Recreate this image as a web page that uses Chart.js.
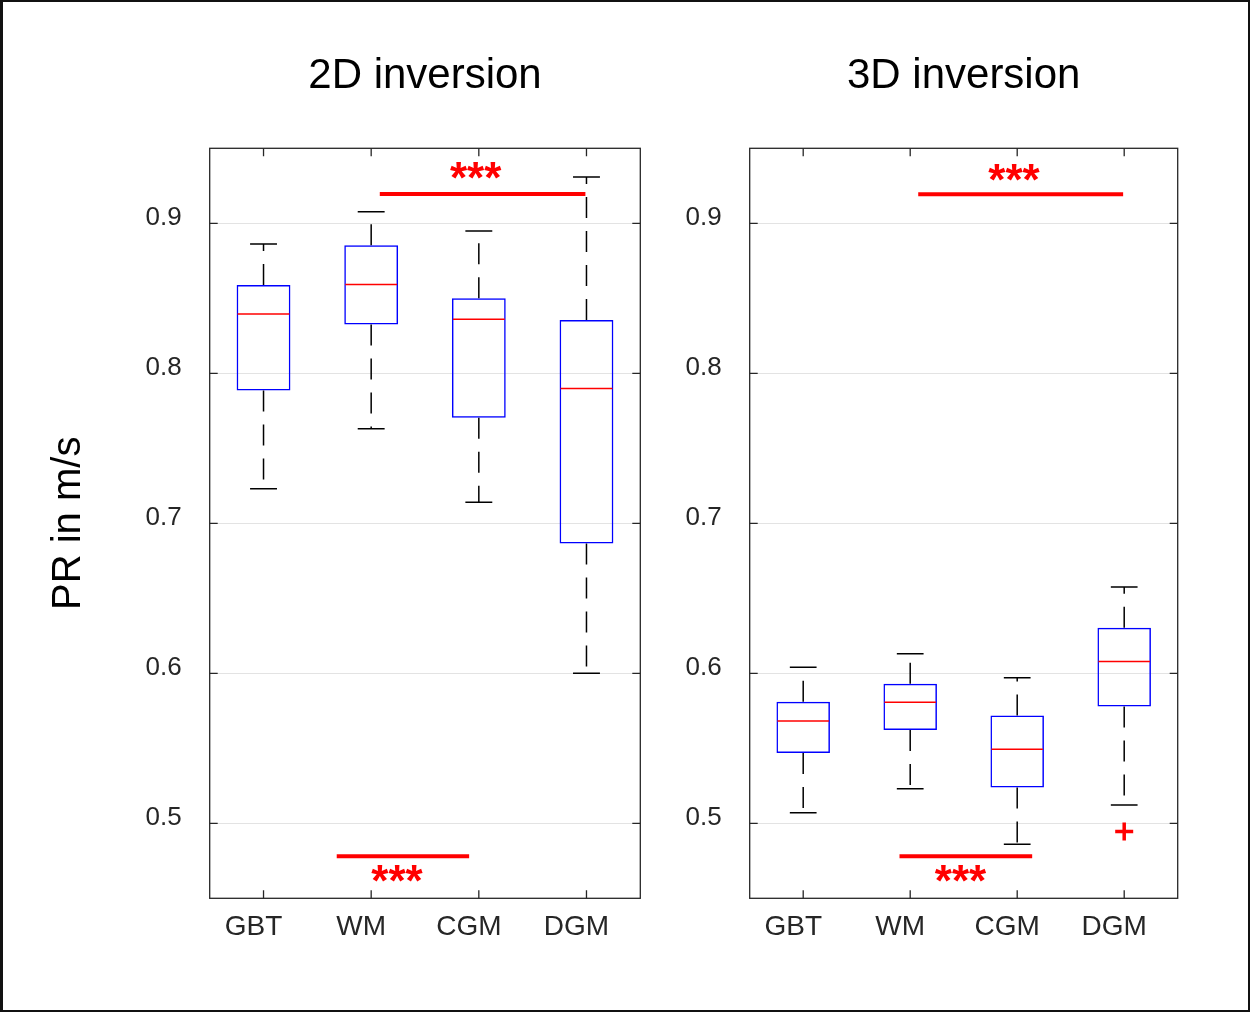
<!DOCTYPE html>
<html>
<head>
<meta charset="utf-8">
<title>PR boxplots</title>
<script src="https://cdn.jsdelivr.net/npm/chart.js@4.4.0/dist/chart.umd.min.js"></script>
<style>
  html, body { margin: 0; padding: 0; background: #fff; }
  .panel { position: absolute; top: 0; }
  #frame { position: absolute; left: 0; top: 0; width: 1250px; height: 1012px; box-sizing: border-box;
           border: 2px solid #111; border-left-width: 3px; pointer-events: none; }
</style>
</head>
<body>
<canvas id="chart2d" class="panel" width="660" height="1012" style="left:0px"></canvas>
<canvas id="chart3d" class="panel" width="590" height="1012" style="left:660px"></canvas>
<div id="frame"></div>
<script>
// categories + y ticks
const groups = ['GBT', 'WM', 'CGM', 'DGM'];
const yTicks = [0.5, 0.6, 0.7, 0.8, 0.9];

// 2D inversion (lower whisker, Q1, median, Q3, upper whisker)
const lo2d  = [0.723, 0.763, 0.714, 0.600];
const q1_2d = [0.7885, 0.8325, 0.7704, 0.6865];
const med2d = [0.8395, 0.8592, 0.8361, 0.7899];
const q3_2d = [0.8589, 0.8853, 0.8501, 0.8356];
const hi2d  = [0.8862, 0.9077, 0.8948, 0.9308];
const out2d = [null, null, null, null];

// 3D inversion
const lo3d  = [0.5071, 0.5231, 0.4860, 0.5122];
const q1_3d = [0.5469, 0.5622, 0.5238, 0.5778];
const med3d = [0.5682, 0.5807, 0.5494, 0.6078];
const q3_3d = [0.5811, 0.5931, 0.5718, 0.6303];
const hi3d  = [0.6040, 0.6131, 0.5971, 0.6576];
const out3d = [null, null, null, 0.4945];

// significance bars: [from index, to index, y value, star x index, star y value]
const sig2d = [[1.08, 2.99, 0.9195, 1.97, 0.9355], [0.68, 1.91, 0.478, 1.24, 0.4668]];
const sig3d = [[1.075, 2.99, 0.9194, 1.97, 0.9344], [0.90, 2.14, 0.478, 1.47, 0.4672]];

const FONT = "'Liberation Sans', Arial, Helvetica, sans-serif";
Chart.defaults.font.family = FONT;

// draws medians, whiskers, caps, significance marks and the matlab style axes box
const boxExtras = {
    id: 'boxExtras',
    afterDatasetsDraw(chart, args, opts) {
        const x = chart.scales.x, y = chart.scales.y, ctx = chart.ctx;
        const q = chart.data.datasets[0].data;
        const half = (x.getPixelForValue(1) - x.getPixelForValue(0)) * 0.25;
        const cap = half / 2;
        ctx.save();
        for (let i = 0; i < groups.length; i++) {
            const cx = x.getPixelForValue(i);
            // whiskers
            ctx.strokeStyle = '#000';
            ctx.lineWidth = 1.5;
            ctx.setLineDash([21, 13]);
            ctx.beginPath();
            ctx.moveTo(cx, y.getPixelForValue(q[i][1]));
            ctx.lineTo(cx, y.getPixelForValue(opts.hi[i]));
            ctx.moveTo(cx, y.getPixelForValue(q[i][0]));
            ctx.lineTo(cx, y.getPixelForValue(opts.lo[i]));
            ctx.stroke();
            ctx.setLineDash([]);
            ctx.beginPath();
            ctx.moveTo(cx - cap, y.getPixelForValue(opts.hi[i]));
            ctx.lineTo(cx + cap, y.getPixelForValue(opts.hi[i]));
            ctx.moveTo(cx - cap, y.getPixelForValue(opts.lo[i]));
            ctx.lineTo(cx + cap, y.getPixelForValue(opts.lo[i]));
            ctx.stroke();
            // median
            ctx.strokeStyle = '#ff0000';
            ctx.beginPath();
            ctx.moveTo(cx - half + 1, y.getPixelForValue(opts.med[i]));
            ctx.lineTo(cx + half - 1, y.getPixelForValue(opts.med[i]));
            ctx.stroke();
        }
        // significance
        ctx.strokeStyle = '#ff0000';
        ctx.fillStyle = '#ff0000';
        ctx.lineWidth = 4;
        ctx.font = 'bold 44px ' + FONT;
        ctx.textAlign = 'center';
        ctx.textBaseline = 'middle';
        opts.sig.forEach(s => {
            const py = y.getPixelForValue(s[2]);
            ctx.beginPath();
            ctx.moveTo(x.getPixelForValue(s[0]), py);
            ctx.lineTo(x.getPixelForValue(s[1]), py);
            ctx.stroke();
            ctx.fillText('***', x.getPixelForValue(s[3]), y.getPixelForValue(s[4]) + 11);
        });
        ctx.restore();
    },
    afterDraw(chart) {
        const a = chart.chartArea, x = chart.scales.x, y = chart.scales.y, ctx = chart.ctx;
        ctx.save();
        ctx.strokeStyle = '#262626';
        ctx.lineWidth = 1.3;
        ctx.strokeRect(a.left, a.top, a.right - a.left, a.bottom - a.top);
        ctx.beginPath();
        yTicks.forEach(v => {
            const py = y.getPixelForValue(v);
            ctx.moveTo(a.left, py); ctx.lineTo(a.left + 8, py);
            ctx.moveTo(a.right, py); ctx.lineTo(a.right - 8, py);
        });
        groups.forEach((g, i) => {
            const px = x.getPixelForValue(i);
            ctx.moveTo(px, a.bottom); ctx.lineTo(px, a.bottom - 8);
            ctx.moveTo(px, a.top); ctx.lineTo(px, a.top + 8);
        });
        ctx.stroke();
        ctx.restore();
    }
};

function makeChart(id, title, lo, q1, med, q3, hi, out, sig, yTitle, padLeft, yWidth, padRight) {
    const boxes = q1.map((v, i) => [v, q3[i]]);
    return new Chart(document.getElementById(id).getContext('2d'), {
        type: 'bar',
        data: {
            labels: groups,
            datasets: [{
                data: boxes,
                backgroundColor: 'rgba(0,0,0,0)',
                borderColor: '#0000ff',
                borderWidth: 1.5,
                borderSkipped: false,
                barPercentage: 0.5,
                categoryPercentage: 1.0
            }, {
                type: 'line',
                data: out,
                showLine: false,
                pointStyle: 'cross',
                pointRadius: 9,
                borderWidth: 3.5,
                borderColor: '#ff0000',
                backgroundColor: '#ff0000'
            }]
        },
        options: {
            responsive: false,
            animation: false,
            layout: { padding: { left: padLeft, right: padRight, top: 0, bottom: 0 } },
            plugins: {
                legend: { display: false },
                tooltip: { enabled: false },
                title: {
                    display: true, text: title, fullSize: false, color: '#000',
                    font: { size: 42, weight: 'normal' },
                    padding: { top: 50.8, bottom: 47.1 }
                },
                boxExtras: { lo: lo, med: med, hi: hi, sig: sig }
            },
            scales: {
                x: {
                    offset: true,
                    grid: { display: false, drawTicks: false },
                    border: { display: false },
                    ticks: { font: { size: 28 }, color: '#262626', padding: 12, labelOffset: -10 },
                    afterFit: s => { s.height = 113.7; }
                },
                y: {
                    min: 0.45, max: 0.95,
                    afterBuildTicks: s => { s.ticks = yTicks.map(v => ({ value: v })); },
                    grid: { color: '#e3e3e3', drawTicks: false },
                    border: { display: false },
                    ticks: { font: { size: 26 }, color: '#262626', padding: 28, labelOffset: -5,
                             callback: v => v.toFixed(1) },
                    title: { display: !!yTitle, text: yTitle, color: '#000', font: { size: 40 }, padding: 0 },
                    afterFit: s => { s.width = yWidth; }
                }
            }
        },
        plugins: [boxExtras]
    });
}

makeChart('chart2d', '2D inversion', lo2d, q1_2d, med2d, q3_2d, hi2d, out2d, sig2d, 'PR in m/s', 45, 164.7, 19.7);
makeChart('chart3d', '3D inversion', lo3d, q1_3d, med3d, q3_3d, hi3d, out3d, sig3d, '', 0, 89.7, 72.3);
</script>
</body>
</html>
